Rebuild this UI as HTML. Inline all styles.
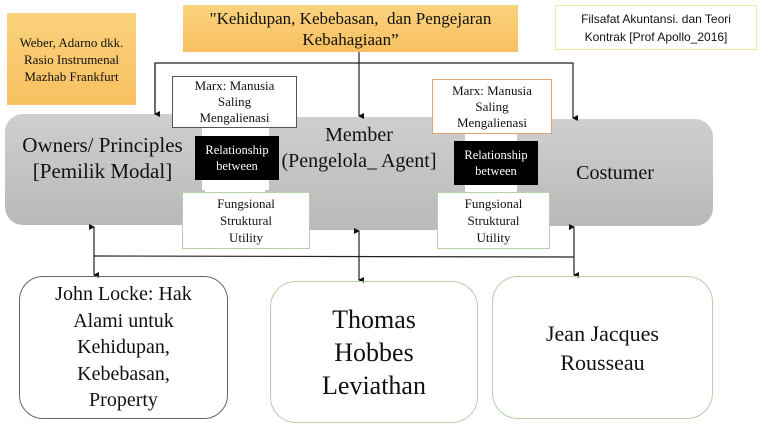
<!DOCTYPE html>
<html><head><meta charset="utf-8"><style>
body{margin:0;width:760px;height:427px;background:#fff;position:relative;overflow:hidden;font-family:"Liberation Serif",serif;color:#111}
.a{position:absolute;box-sizing:border-box;display:flex;align-items:center;justify-content:center;text-align:center}
.g{background:linear-gradient(#cfcfcf,#b9b9b9);border-radius:18px}
.or{background:linear-gradient(#fbd27e,#f8c060);}
</style></head><body>
<div class="a g" style="left:5px;top:114px;width:200px;height:111px"></div>
<div class="a g" style="left:265px;top:117px;width:205px;height:113px"></div>
<div class="a g" style="left:512px;top:119px;width:201px;height:107px"></div>
<div class="a" style="left:202px;top:128px;width:67px;height:62px;background:#fff"></div>
<div class="a" style="left:465px;top:134px;width:52px;height:58px;background:#fff"></div>

<div class="a" style="left:8px;top:128px;width:189px;height:60px;font-size:21px;line-height:26px">Owners/ Principles<br>[Pemilik Modal]</div>
<div class="a" style="left:276px;top:120px;width:166px;height:56px;font-size:20px;line-height:26px">Member<br>(Pengelola_ Agent]</div>
<div class="a" style="left:555px;top:158px;width:120px;height:30px;font-size:20px">Costumer</div>

<div class="a or" style="left:7px;top:13px;width:129px;height:92px;font-size:13px;line-height:17px">Weber, Adarno dkk.<br>Rasio Instrumenal<br>Mazhab Frankfurt</div>
<div class="a or" style="left:183px;top:5px;width:335px;height:47px;font-size:17px;line-height:21px">"Kehidupan, Kebebasan,&nbsp; dan Pengejaran<br>Kebahagiaan”</div>
<div class="a" style="left:555px;top:5px;width:202px;height:45px;border:1px solid #f5e6a8;font-family:'Liberation Sans',sans-serif;font-size:12px;line-height:18px">Filsafat Akuntansi. dan Teori<br>Kontrak [Prof Apollo_2016]</div>

<div class="a" style="left:172px;top:76px;width:125px;height:52px;background:#fff;border:1px solid #555;font-size:13px;line-height:16px">Marx: Manusia<br>Saling<br>Mengalienasi</div>
<div class="a" style="left:432px;top:79px;width:120px;height:55px;background:#fff;border:1px solid #d9a67a;font-size:13px;line-height:16px">Marx: Manusia<br>Saling<br>Mengalienasi</div>
<div class="a" style="left:195px;top:136px;width:84px;height:44px;background:#000;color:#fff;font-size:12.5px;line-height:16px">Relationship<br>between</div>
<div class="a" style="left:454px;top:141px;width:84px;height:44px;background:#000;color:#fff;font-size:12.5px;line-height:16px">Relationship<br>between</div>
<div class="a" style="left:182px;top:192px;width:128px;height:57px;background:#fff;border:1px solid #b5d1a8;font-size:13px;line-height:17px">Fungsional<br>Struktural<br>Utility</div>
<div class="a" style="left:437px;top:192px;width:113px;height:57px;background:#fff;border:1px solid #b5d1a8;font-size:13px;line-height:17px">Fungsional<br>Struktural<br>Utility</div>

<svg class="a" style="left:0;top:0" width="760" height="427">
<defs><marker id="m" markerWidth="5" markerHeight="5" refX="3" refY="5" orient="auto-start-reverse" viewBox="0 0 6 6"><path d="M0,0 L6,0 L3,6z" fill="#111"/></marker></defs>
<g stroke="#222" stroke-width="1.2" fill="none">
<polyline points="155,114 155,63 573,63 573,118" marker-end="url(#m)"/>
<line x1="155" y1="63" x2="155" y2="114" marker-end="url(#m)"/>
<line x1="359" y1="52" x2="359" y2="116" marker-end="url(#m)"/>
<line x1="94" y1="256" x2="574" y2="257"/>
<line x1="94" y1="256" x2="94" y2="227" marker-end="url(#m)"/>
<line x1="94" y1="256" x2="94" y2="275" marker-end="url(#m)"/>
<line x1="359" y1="256" x2="359" y2="231" marker-end="url(#m)"/>
<line x1="359" y1="256" x2="359" y2="280" marker-end="url(#m)"/>
<line x1="574" y1="257" x2="574" y2="227" marker-end="url(#m)"/>
<line x1="574" y1="257" x2="574" y2="275" marker-end="url(#m)"/>
</g></svg>

<div class="a" style="left:19px;top:276px;width:209px;height:143px;border:1px solid #666;border-radius:24px;font-size:20px;line-height:26.5px">John Locke: Hak<br>Alami untuk<br>Kehidupan,<br>Kebebasan,<br>Property</div>
<div class="a" style="left:270px;top:281px;width:208px;height:142px;border:1px solid #b5d1a8;border-radius:26px;font-size:26px;line-height:33px">Thomas<br>Hobbes<br>Leviathan</div>
<div class="a" style="left:492px;top:276px;width:221px;height:143px;border:1px solid #b5d1a8;border-radius:26px;font-size:22px;line-height:29px">Jean Jacques<br>Rousseau</div>
</body></html>
